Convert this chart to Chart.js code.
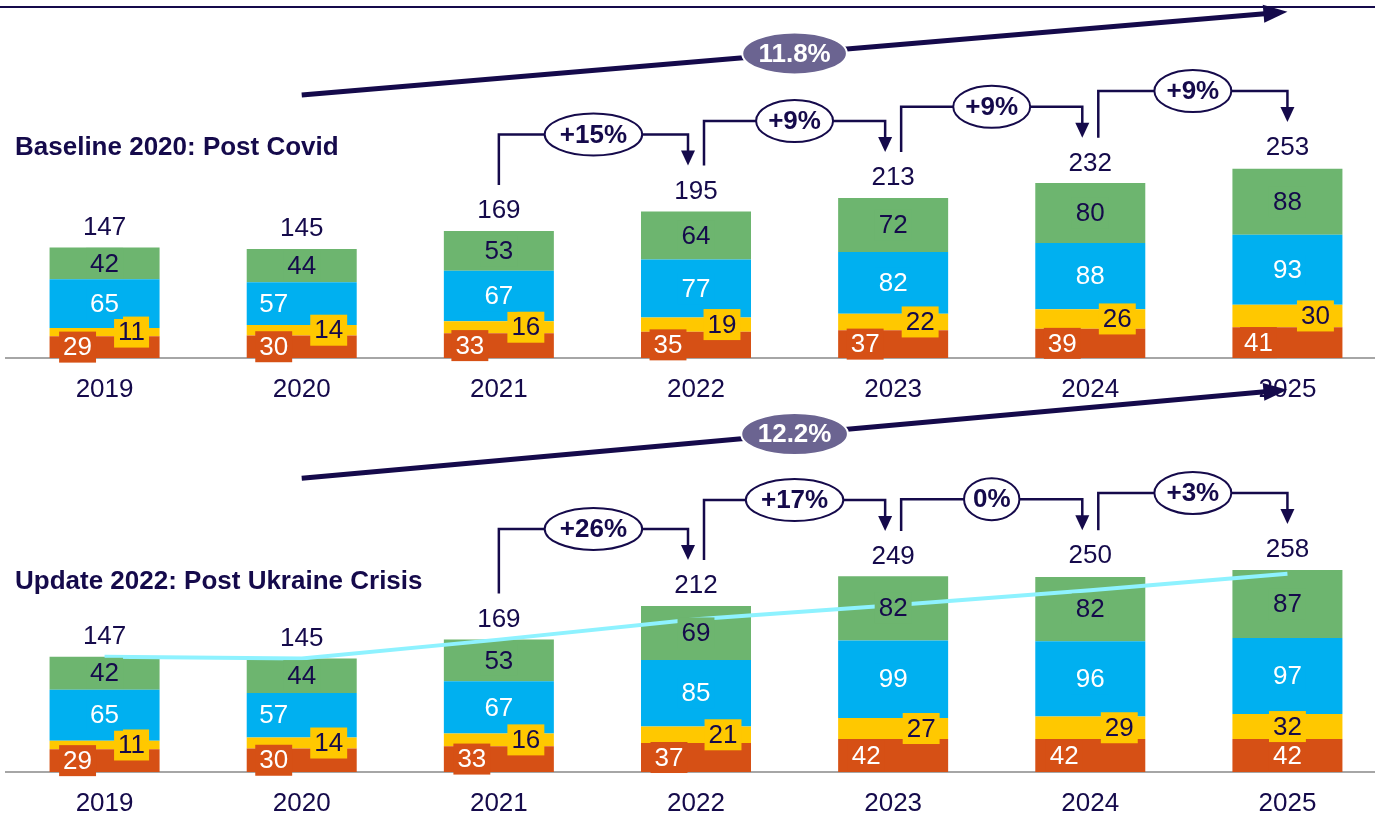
<!DOCTYPE html>
<html>
<head>
<meta charset="utf-8">
<script src="https://cdn.jsdelivr.net/npm/chart.js@4.4.0/dist/chart.umd.min.js"></script>
<style>
  body { margin: 0; background: #fff; width: 1375px; height: 818px; overflow: hidden; position: relative; font-family: "Liberation Sans", Arial, sans-serif; }
  canvas { position: absolute; left: 0; top: 0; }
  .title { position: absolute; left: 15px; font-weight: bold; font-size: 26px; line-height: 30px; color: #150A4B; white-space: nowrap; }
</style>
</head>
<body>
<canvas id="chartBase" width="1390" height="818"></canvas>
<canvas id="chartUpdate" width="1390" height="860"></canvas>
<div class="title" style="top:131px">Baseline 2020: Post Covid</div>
<div class="title" style="top:565px">Update 2022: Post Ukraine Crisis</div>
<script>
const years = ["2019", "2020", "2021", "2022", "2023", "2024", "2025"];

// baseline 2020 (post covid)
const base_orange = [29, 30, 33, 35, 37, 39, 41];
const base_yellow = [11, 14, 16, 19, 22, 26, 30];
const base_blue = [65, 57, 67, 77, 82, 88, 93];
const base_green = [42, 44, 53, 64, 72, 80, 88];
const base_totals = [147, 145, 169, 195, 213, 232, 253];
const base_growth = [null, null, null, "+15%", "+9%", "+9%", "+9%"]; // growth into that year
const base_cagr = "11.8%";

// update 2022 (post ukraine crisis)
const upd_orange = [29, 30, 33, 37, 42, 42, 42];
const upd_yellow = [11, 14, 16, 21, 27, 29, 32];
const upd_blue = [65, 57, 67, 85, 99, 96, 97];
const upd_green = [42, 44, 53, 69, 82, 82, 87];
const upd_totals = [147, 145, 169, 212, 249, 250, 258];
const upd_growth = [null, null, null, "+26%", "+17%", "0%", "+3%"];
const upd_cagr = "12.2%";

const ORANGE = "#D65015";
const YELLOW = "#FFC800";
const BLUE = "#00B0F0";
const GREEN = "#6DB56F";
const NAVY = "#150A4B";
const CYAN = "#8EF2FF";
const PILL = "#6B6491";
const AXIS = "#A6A6A6";
const FAMILY = '"Liberation Sans", Arial, sans-serif';
const NUM_FONT = "26px " + FAMILY;
const BOLD_FONT = "bold 26px " + FAMILY;

// horizontal nudges for the segment labels so they don't sit on top of each other
const shift_base = {
  orange: [-27, -28, -29, -28, -28, -28, -29],
  yellow: [27, 27, 27, 26, 27, 27, 28],
  blue: [0, -28, 0, 0, 0, 0, 0],
  green: [0, 0, 0, 0, 0, 0, 0]
};
const shift_upd = {
  orange: [-27, -28, -27, -27, -27, -26, 0],
  yellow: [27, 27, 27, 27, 28, 29, 0],
  blue: [0, -28, 0, 0, 0, 0, 0],
  green: [0, 0, 0, 0, 0, 0, 0]
};

function labelBox(ctx, text, x, y, bg, color) {
  ctx.font = NUM_FONT;
  let w = ctx.measureText(text).width + 8;
  let h = 31;
  ctx.fillStyle = bg;
  ctx.fillRect(x - w / 2, y - h / 2, w, h);
  ctx.fillStyle = color;
  ctx.textAlign = "center";
  ctx.textBaseline = "middle";
  ctx.fillText(text, x, y + 1);
}

function arrowHead(ctx, x, y, angle, len, half) {
  ctx.save();
  ctx.translate(x, y);
  ctx.rotate(angle);
  ctx.beginPath();
  ctx.moveTo(0, 0);
  ctx.lineTo(-len, -half);
  ctx.lineTo(-len, half);
  ctx.closePath();
  ctx.fill();
  ctx.restore();
}

function pill(ctx, text, x, y, fill, stroke, color) {
  ctx.font = BOLD_FONT;
  let tw = ctx.measureText(text).width;
  let rx = tw * 0.71 + 1;
  ctx.beginPath();
  ctx.ellipse(x, y, rx, 21, 0, 0, Math.PI * 2);
  ctx.fillStyle = fill;
  ctx.fill();
  ctx.lineWidth = 2;
  ctx.strokeStyle = stroke;
  ctx.stroke();
  ctx.fillStyle = color;
  ctx.textAlign = "center";
  ctx.textBaseline = "middle";
  ctx.fillText(text, x, y + 1);
}

function decor(cfg) {
  return {
    id: "decor",
    afterDatasetsDraw(chart) {
      let ctx = chart.ctx;
      let xScale = chart.scales.x;
      let yScale = chart.scales.y;
      ctx.save();

      if (cfg.rule) {
        ctx.strokeStyle = NAVY;
        ctx.lineWidth = 2;
        ctx.beginPath();
        ctx.moveTo(0, 7);
        ctx.lineTo(chart.width, 7);
        ctx.stroke();
      }

      // value labels inside the stacked segments
      const looks = [
        { shift: cfg.shift.orange, bg: ORANGE, color: "#fff" },
        { shift: cfg.shift.yellow, bg: YELLOW, color: NAVY },
        { shift: cfg.shift.blue, bg: BLUE, color: "#fff" },
        { shift: cfg.shift.green, bg: GREEN, color: NAVY }
      ];
      for (let d = 0; d < 4; d++) {
        let meta = chart.getDatasetMeta(d);
        let values = chart.data.datasets[d].data;
        meta.data.forEach(function (bar, k) {
          let cy = (bar.y + bar.base) / 2;
          labelBox(ctx, String(values[k]), bar.x + looks[d].shift[k], cy, looks[d].bg, looks[d].color);
        });
      }

      // totals over each bar
      ctx.font = NUM_FONT;
      ctx.fillStyle = NAVY;
      ctx.textAlign = "center";
      ctx.textBaseline = "middle";
      cfg.totals.forEach(function (t, k) {
        ctx.fillText(String(t), xScale.getPixelForValue(k), yScale.getPixelForValue(t) - 20);
      });

      // year on year brackets
      let g = cfg.growth;
      for (let k = 1; k < g.length; k++) {
        if (!g[k]) continue;
        let from = k - 1;
        let sx = xScale.getPixelForValue(from) + (g[from] ? 8 : 0);
        let ex = xScale.getPixelForValue(k) - (g[k + 1] ? 8 : 0);
        let sy = yScale.getPixelForValue(cfg.totals[from]) - 46;
        let ty = yScale.getPixelForValue(cfg.totals[k]) - 46;
        let hy = Math.min(sy, ty) - 31;
        ctx.strokeStyle = NAVY;
        ctx.fillStyle = NAVY;
        ctx.lineWidth = 2.5;
        ctx.beginPath();
        ctx.moveTo(sx, sy);
        ctx.lineTo(sx, hy);
        ctx.lineTo(ex, hy);
        ctx.lineTo(ex, ty - 14);
        ctx.stroke();
        arrowHead(ctx, ex, ty, Math.PI / 2, 15, 7);
        pill(ctx, g[k], (sx + ex) / 2, hy, "#fff", NAVY, NAVY);
      }

      // cagr arrow
      let c = cfg.cagr;
      let x1 = xScale.getPixelForValue(c.from);
      let x2 = xScale.getPixelForValue(c.to);
      let y1 = yScale.getPixelForValue(c.yFrom);
      let y2 = yScale.getPixelForValue(c.yTo);
      let ang = Math.atan2(y2 - y1, x2 - x1);
      ctx.strokeStyle = NAVY;
      ctx.fillStyle = NAVY;
      ctx.lineWidth = 5;
      ctx.beginPath();
      ctx.moveTo(x1, y1);
      ctx.lineTo(x2 - 20 * Math.cos(ang), y2 - 20 * Math.sin(ang));
      ctx.stroke();
      arrowHead(ctx, x2, y2, ang, 24, 9);
      pill(ctx, c.text, (x1 + x2) / 2, (y1 + y2) / 2, PILL, "#fff", "#fff");

      ctx.restore();
    }
  };
}

function barSets(orange, yellow, blue, green) {
  return [
    { label: "a", data: orange, backgroundColor: ORANGE, order: 1 },
    { label: "b", data: yellow, backgroundColor: YELLOW, order: 1 },
    { label: "c", data: blue, backgroundColor: BLUE, order: 1 },
    { label: "d", data: green, backgroundColor: GREEN, order: 1 }
  ];
}

function makeChart(id, datasets, maxY, padTop, padBottom, cfg) {
  const ctx = document.getElementById(id).getContext("2d");
  return new Chart(ctx, {
    type: "bar",
    data: { labels: years, datasets: datasets },
    options: {
      responsive: false,
      animation: false,
      devicePixelRatio: 1,
      barPercentage: 0.558,
      categoryPercentage: 1,
      layout: { padding: { left: 6, right: 4, top: padTop, bottom: padBottom } },
      plugins: { legend: { display: false }, tooltip: { enabled: false } },
      scales: {
        x: {
          stacked: true,
          grid: { display: false, drawTicks: false },
          border: { display: true, color: AXIS, width: 2 },
          ticks: { color: NAVY, font: { family: FAMILY, size: 26 }, padding: 16 }
        },
        y: { stacked: true, display: false, min: 0, max: maxY }
      }
    },
    plugins: [decor(cfg)]
  });
}

makeChart("chartBase",
  barSets(base_orange, base_yellow, base_blue, base_green),
  450, 20, 396.8,
  {
    rule: true,
    shift: shift_base,
    totals: base_totals,
    growth: base_growth,
    cagr: { text: base_cagr, from: 1, to: 6, yFrom: 350, yTo: 461 }
  });

// the baseline totals are laid over the update bars as a reference line
let updSets = barSets(upd_orange, upd_yellow, upd_blue, upd_green);
updSets.push({
  type: "line",
  label: "baseline",
  data: base_totals,
  stack: "ref",
  order: 0,
  borderColor: CYAN,
  borderWidth: 4,
  pointRadius: 0,
  tension: 0,
  fill: false
});

makeChart("chartUpdate", updSets, 480, 396, 24.8,
  {
    rule: false,
    shift: shift_upd,
    totals: upd_totals,
    growth: upd_growth,
    cagr: { text: upd_cagr, from: 1, to: 6, yFrom: 375, yTo: 488 }
  });
</script>
</body>
</html>
